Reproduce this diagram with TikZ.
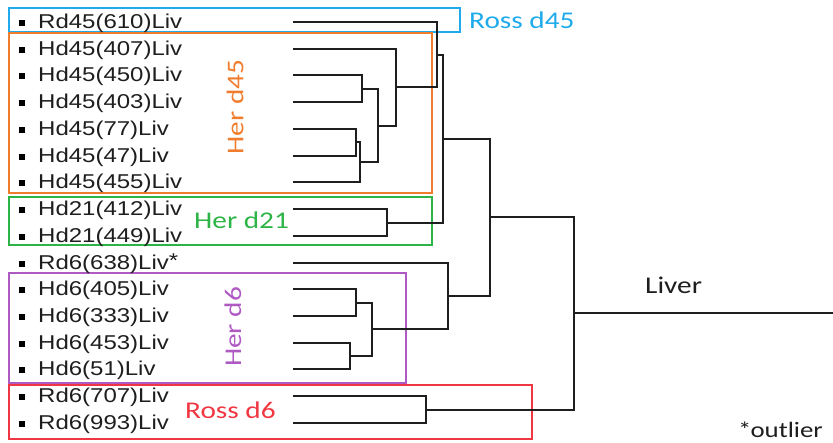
\documentclass[tikz,border=0pt]{standalone}
\usepackage{fontspec}
\newfontfamily\leaffont{Liberation Sans}[FakeStretch=1.2]
\newfontfamily\labfont{Carlito}[FakeStretch=1.22]
\definecolor{cblue}{RGB}{30,170,235}
\definecolor{corange}{RGB}{240,125,45}
\definecolor{cgreen}{RGB}{45,180,70}
\definecolor{cpurple}{RGB}{175,90,195}
\definecolor{cred}{RGB}{240,55,65}
\definecolor{cline}{RGB}{30,30,30}
\begin{document}
\begin{tikzpicture}[x=1pt,y=-1pt,
  leaflabel/.style={anchor=base west,inner sep=0pt,text=cline,font=\leaffont\fontsize{20}{24}\selectfont},
  bulletsq/.style={fill=black,minimum size=6pt,inner sep=0pt},
  grouplabel/.style={inner sep=0pt,font=\labfont\fontsize{24}{28}\selectfont},
  plainlabel/.style={inner sep=0pt,anchor=base west,text=cline,font=\labfont\fontsize{22}{26}\selectfont},
  groupbox/.style={line width=1.8pt},
  branch/.style={draw=cline,line width=2pt}]
\useasboundingbox (0,0) rectangle (833,442);
% group boxes
\draw[groupbox,cblue]   (9,8) rectangle (460,32);
\draw[groupbox,corange] (9,33) rectangle (432,193);
\draw[groupbox,cgreen]  (9,197) rectangle (432,245);
\draw[groupbox,cpurple] (9,273) rectangle (406,383);
\draw[groupbox,cred]    (9,385) rectangle (532,439);
% leaves
\foreach \i/\t [evaluate=\i as \yy using {22+(\i-1)*26.73}] in {
  1/Rd45(610)Liv, 2/Hd45(407)Liv, 3/Hd45(450)Liv, 4/Hd45(403)Liv,
  5/Hd45(77)Liv, 6/Hd45(47)Liv, 7/Hd45(455)Liv, 8/Hd21(412)Liv,
  9/Hd21(449)Liv, 10/Rd6(638)Liv\raisebox{2pt}{*}, 11/Hd6(405)Liv, 12/Hd6(333)Liv,
  13/Hd6(453)Liv, 14/Hd6(51)Liv, 15/Rd6(707)Liv, 16/Rd6(993)Liv}{
  \node[bulletsq] (B\i) at (22,\yy+1) {};
  \node[leaflabel] (T\i) at (38,\yy+6.5) {\t};
  \coordinate (L\i) at (293,\yy);
}
% internal merge points
\coordinate (a) at (362,88.8);
\coordinate (b) at (356,142.3);
\coordinate (c) at (360,162.3);
\coordinate (d) at (378,125.6);
\coordinate (e) at (396,87.2);
\coordinate (f) at (437,54.6);
\coordinate (g) at (387,222.5);
\coordinate (h) at (443,138.5);
\coordinate (k) at (356,302.7);
\coordinate (l) at (350,356.1);
\coordinate (m) at (372,329.4);
\coordinate (n) at (448,296.0);
\coordinate (o) at (490,217.2);
\coordinate (p) at (426,409.6);
\coordinate (r) at (574,313.4);
\coordinate (rend) at (833,313.4);
% dendrogram branches
\draw[branch] (L3) -| (a);  \draw[branch] (L4) -| (a);
\draw[branch] (L5) -| (b);  \draw[branch] (L6) -| (b);
\draw[branch] (b) -| (c);   \draw[branch] (L7) -| (c);
\draw[branch] (a) -| (d);   \draw[branch] (c) -| (d);
\draw[branch] (L2) -| (e);  \draw[branch] (d) -| (e);
\draw[branch] (L1) -| (f);  \draw[branch] (e) -| (f);
\draw[branch] (L8) -| (g);  \draw[branch] (L9) -| (g);
\draw[branch] (f) -| (h);   \draw[branch] (g) -| (h);
\draw[branch] (L11) -| (k); \draw[branch] (L12) -| (k);
\draw[branch] (L13) -| (l); \draw[branch] (L14) -| (l);
\draw[branch] (k) -| (m);   \draw[branch] (l) -| (m);
\draw[branch] (L10) -| (n); \draw[branch] (m) -| (n);
\draw[branch] (h) -| (o);   \draw[branch] (n) -| (o);
\draw[branch] (L15) -| (p); \draw[branch] (L16) -| (p);
\draw[branch] (o) -| (r);   \draw[branch] (p) -| (r);
\draw[branch] (r) -- (rend);
% group labels
\node[grouplabel,text=cblue,anchor=base west] (lrd45) at (469,28) {Ross d45};
\node[grouplabel,text=corange,rotate=90] (lhd45) at (235,107) {Her d45};
\node[grouplabel,text=cgreen,anchor=base west] (lhd21) at (194,228) {Her d21};
\node[grouplabel,text=cpurple,rotate=90] (lhd6) at (233,327) {Her d6};
\node[grouplabel,text=cred,anchor=base west] (lrd6) at (185,418) {Ross d6};
\node[plainlabel,font=\labfont\fontsize{24}{28}\selectfont] (liver) at (645,293) {Liver};
\node[plainlabel] (outl) at (738,437) {*\kern-1pt outlier};
\end{tikzpicture}
\end{document}
